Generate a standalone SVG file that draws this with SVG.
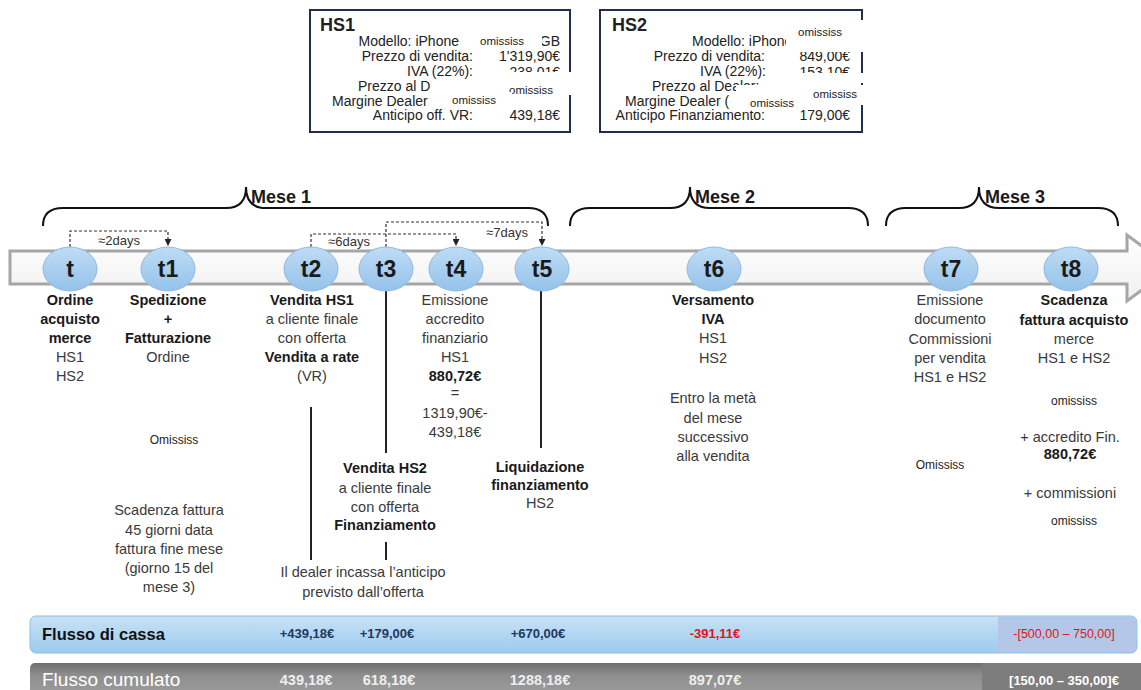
<svg xmlns="http://www.w3.org/2000/svg" width="1141" height="690" viewBox="0 0 1141 690">
<defs>
  <linearGradient id="gEll" x1="0" y1="0" x2="0" y2="1">
    <stop offset="0" stop-color="#bfdcf5"/>
    <stop offset="1" stop-color="#94c2ea"/>
  </linearGradient>
  <linearGradient id="gBar" x1="0" y1="0" x2="0" y2="1">
    <stop offset="0" stop-color="#ffffff"/>
    <stop offset="1" stop-color="#f0f0f0"/>
  </linearGradient>
  <linearGradient id="gCassa" x1="0" y1="0" x2="0" y2="1">
    <stop offset="0" stop-color="#c8e2f6"/>
    <stop offset="1" stop-color="#9ccbee"/>
  </linearGradient>
  <linearGradient id="gCum" x1="0" y1="0" x2="0" y2="1">
    <stop offset="0" stop-color="#6e6e6e"/>
    <stop offset="0.35" stop-color="#8e8e8e"/>
    <stop offset="1" stop-color="#9e9e9e"/>
  </linearGradient>
  <marker id="arr" viewBox="0 0 10 10" refX="10" refY="5" markerWidth="7" markerHeight="7" orient="auto" markerUnits="userSpaceOnUse">
    <path d="M0,0 L10,5 L0,10 z" fill="#222"/>
  </marker>
  <style>
    .t{font-family:"Liberation Sans",Arial,sans-serif;font-size:14.5px;fill:#3a3a3a;text-anchor:middle}
    .b{font-weight:bold;fill:#1a1a1a}
    .bx{font-family:"Liberation Sans",Arial,sans-serif;font-size:14px;fill:#222}
    .end{text-anchor:end}
    .om{font-family:"Liberation Sans",Arial,sans-serif;font-size:11.5px;fill:#222}
    .omc{font-family:"Liberation Sans",Arial,sans-serif;font-size:12px;fill:#222;text-anchor:middle}
    .lab{font-family:"Liberation Sans Narrow","Liberation Sans",sans-serif;font-weight:bold;font-size:23px;fill:#1a1a1a;text-anchor:middle}
    .mese{font-family:"Liberation Sans Narrow","Liberation Sans",sans-serif;font-weight:bold;font-size:18px;fill:#1a1a1a}
    .days{font-family:"Liberation Sans Narrow","Liberation Sans",sans-serif;font-size:13px;fill:#333;text-anchor:middle}
    .brace{fill:none;stroke:#111;stroke-width:2}
    .dash{fill:none;stroke:#333;stroke-width:1.2;stroke-dasharray:3 2}
    .solid{fill:none;stroke:#222;stroke-width:2}
    .ell{fill:url(#gEll);stroke:#8fb9e2;stroke-width:1}
    .patch{fill:#ffffff}
    .box{fill:#ffffff;stroke:#1f2d4f;stroke-width:2}
    .val{font-family:"Liberation Sans",Arial,sans-serif;font-weight:bold;font-size:13px;text-anchor:middle}
  </style>
</defs>

<!-- HS1 box -->
<g id="hs1">
  <rect class="box" x="310" y="10" width="260" height="122"/>
  <text class="bx b" x="320" y="31" style="font-size:18px">HS1</text>
  <text class="bx end" x="459" y="46">Modello: iPhone</text>
  <text class="bx end" x="560" y="46">GB</text>
  <text class="bx end" x="473" y="61">Prezzo di vendita:</text>
  <text class="bx end" x="560" y="61">1'319,90€</text>
  <text class="bx end" x="473" y="76">IVA (22%):</text>
  <text class="bx end" x="560" y="77">238,01€</text>
  <text class="bx" x="358" y="91">Prezzo al D</text>
  <text class="bx" x="332" y="106">Margine Dealer</text>
  <text class="bx end" x="473" y="120">Anticipo off. VR:</text>
  <text class="bx end" x="560" y="120">439,18€</text>
  <rect class="patch" x="476" y="34" width="66" height="15"/>
  <text class="om" x="480" y="45">omississ</text>
  <rect class="patch" x="480" y="72" width="94" height="10"/>
  <rect class="patch" x="436" y="80" width="138" height="15"/>
  <text class="om" x="509" y="94">omississ</text>
  <rect class="patch" x="448" y="92" width="64" height="16"/>
  <text class="om" x="452" y="104">omississ</text>
</g>

<!-- HS2 box -->
<g id="hs2">
  <rect class="box" x="600" y="10" width="262" height="122"/>
  <text class="bx b" x="612" y="31" style="font-size:18px">HS2</text>
  <text class="bx" x="692" y="46">Modello: iPhone</text>
  <text class="bx end" x="765" y="61">Prezzo di vendita:</text>
  <text class="bx end" x="850" y="61">849,00€</text>
  <text class="bx end" x="766" y="76">IVA (22%):</text>
  <text class="bx end" x="850" y="77">153,10€</text>
  <text class="bx" x="652" y="91">Prezzo al Dealer:</text>
  <text class="bx" x="625" y="106">Margine Dealer (</text>
  <text class="bx end" x="765" y="120">Anticipo Finanziamento:</text>
  <text class="bx end" x="850" y="120">179,00€</text>
  <rect class="patch" x="786" y="20" width="80" height="32"/>
  <text class="om" x="798" y="36">omississ</text>
  <rect class="patch" x="790" y="73" width="76" height="10"/>
  <rect class="patch" x="736" y="85" width="130" height="20"/>
  <text class="om" x="813" y="98">omississ</text>
  <rect class="patch" x="746" y="94" width="58" height="16"/>
  <text class="om" x="750" y="107">omississ</text>
</g>

<!-- Months -->
<g id="mese1">
  <path class="brace" d="M43,226 Q43,208 63,208 H226 Q246,208 246,187 Q246,208 266,208 H528 Q548,208 548,226"/>
  <text class="mese" x="251" y="203">Mese 1</text>
</g>
<g id="mese2">
  <path class="brace" d="M570,226 Q570,208 590,208 H670 Q690,208 690,187 Q690,208 710,208 H848 Q868,208 868,226"/>
  <text class="mese" x="695" y="203">Mese 2</text>
</g>
<g id="mese3">
  <path class="brace" d="M886,226 Q886,208 906,208 H959 Q979,208 979,187 Q979,208 999,208 H1098 Q1118,208 1118,226"/>
  <text class="mese" x="985" y="203">Mese 3</text>
</g>

<!-- Timeline -->
<g id="timeline">
  <polygon points="10,251 1127,251 1127,235 1172,268 1127,301 1127,284 10,284" fill="url(#gBar)" stroke="#a6a6a6" stroke-width="3"/>
</g>

<!-- Connectors -->
<g id="connectors">
  <path class="dash" d="M70,247 V231 H168 V246" marker-end="url(#arr)"/>
  <path class="dash" d="M311,247 V234 H456 V246" marker-end="url(#arr)"/>
  <path class="dash" d="M386,247 V222 H542 V246" marker-end="url(#arr)"/>
  <text class="days" x="119" y="245">≈2days</text>
  <text class="days" x="349" y="246">≈6days</text>
  <text class="days" x="507" y="237">≈7days</text>
  <line class="solid" x1="311" y1="407" x2="311" y2="560"/>
  <line class="solid" x1="386" y1="291" x2="386" y2="453"/>
  <line class="solid" x1="386" y1="542" x2="386" y2="560"/>
  <line class="solid" x1="541" y1="291" x2="541" y2="448"/>
</g>

<!-- Nodes -->
<g id="n-t">
  <ellipse class="ell" cx="70" cy="269" rx="27" ry="22"/>
  <text class="lab" x="70" y="277">t</text>
  <text class="t b" x="70" y="305">Ordine</text>
  <text class="t b" x="70" y="324">acquisto</text>
  <text class="t b" x="70" y="343">merce</text>
  <text class="t" x="70" y="362">HS1</text>
  <text class="t" x="70" y="381">HS2</text>
</g>
<g id="n-t1">
  <ellipse class="ell" cx="168" cy="269" rx="27" ry="22"/>
  <text class="lab" x="168" y="277">t1</text>
  <text class="t b" x="168" y="305">Spedizione</text>
  <text class="t b" x="168" y="324">+</text>
  <text class="t b" x="168" y="343">Fatturazione</text>
  <text class="t" x="168" y="362">Ordine</text>
  <text class="omc" x="174" y="444">Omississ</text>
  <text class="t" x="169" y="515">Scadenza fattura</text>
  <text class="t" x="169" y="535">45 giorni data</text>
  <text class="t" x="169" y="554">fattura fine mese</text>
  <text class="t" x="169" y="573">(giorno 15 del</text>
  <text class="t" x="169" y="592">mese 3)</text>
</g>
<g id="n-t2">
  <ellipse class="ell" cx="311" cy="269" rx="27" ry="22"/>
  <text class="lab" x="311" y="277">t2</text>
  <text class="t b" x="312" y="305">Vendita HS1</text>
  <text class="t" x="312" y="324">a cliente finale</text>
  <text class="t" x="312" y="343">con offerta</text>
  <text class="t b" x="312" y="362">Vendita a rate</text>
  <text class="t" x="312" y="381">(VR)</text>
  <text class="t" x="363" y="577">Il dealer incassa l’anticipo</text>
  <text class="t" x="363" y="597">previsto dall’offerta</text>
</g>
<g id="n-t3">
  <ellipse class="ell" cx="386" cy="269" rx="27" ry="22"/>
  <text class="lab" x="386" y="277">t3</text>
  <text class="t b" x="385" y="473">Vendita HS2</text>
  <text class="t" x="385" y="493">a cliente finale</text>
  <text class="t" x="385" y="512">con offerta</text>
  <text class="t b" x="385" y="530">Finanziamento</text>
</g>
<g id="n-t4">
  <ellipse class="ell" cx="456" cy="269" rx="27" ry="22"/>
  <text class="lab" x="456" y="277">t4</text>
  <text class="t" x="455" y="305">Emissione</text>
  <text class="t" x="455" y="324">accredito</text>
  <text class="t" x="455" y="343">finanziario</text>
  <text class="t" x="455" y="362">HS1</text>
  <text class="t b" x="455" y="381">880,72€</text>
  <text class="t" x="455" y="398">=</text>
  <text class="t" x="455" y="418">1319,90€-</text>
  <text class="t" x="455" y="437">439,18€</text>
</g>
<g id="n-t5">
  <ellipse class="ell" cx="542" cy="269" rx="27" ry="22"/>
  <text class="lab" x="542" y="277">t5</text>
  <text class="t b" x="540" y="472">Liquidazione</text>
  <text class="t b" x="540" y="490">finanziamento</text>
  <text class="t" x="540" y="508">HS2</text>
</g>
<g id="n-t6">
  <ellipse class="ell" cx="714" cy="269" rx="27" ry="22"/>
  <text class="lab" x="714" y="277">t6</text>
  <text class="t b" x="713" y="305">Versamento</text>
  <text class="t b" x="713" y="324">IVA</text>
  <text class="t" x="713" y="343">HS1</text>
  <text class="t" x="713" y="363">HS2</text>
  <text class="t" x="713" y="403">Entro la metà</text>
  <text class="t" x="713" y="423">del mese</text>
  <text class="t" x="713" y="442">successivo</text>
  <text class="t" x="713" y="461">alla vendita</text>
</g>
<g id="n-t7">
  <ellipse class="ell" cx="951" cy="269" rx="27" ry="22"/>
  <text class="lab" x="951" y="277">t7</text>
  <text class="t" x="950" y="305">Emissione</text>
  <text class="t" x="950" y="324">documento</text>
  <text class="t" x="950" y="344">Commissioni</text>
  <text class="t" x="950" y="363">per vendita</text>
  <text class="t" x="950" y="382">HS1 e HS2</text>
  <text class="omc" x="940" y="469">Omississ</text>
</g>
<g id="n-t8">
  <ellipse class="ell" cx="1071" cy="269" rx="27" ry="22"/>
  <text class="lab" x="1071" y="277">t8</text>
  <text class="t b" x="1074" y="305">Scadenza</text>
  <text class="t b" x="1074" y="325">fattura acquisto</text>
  <text class="t" x="1074" y="344">merce</text>
  <text class="t" x="1074" y="363">HS1 e HS2</text>
  <text class="omc" x="1074" y="405">omississ</text>
  <text class="t" x="1070" y="442">+ accredito Fin.</text>
  <text class="t b" x="1070" y="459">880,72€</text>
  <text class="t" x="1070" y="498">+ commissioni</text>
  <text class="omc" x="1074" y="525">omississ</text>
</g>

<!-- Flusso di cassa -->
<g id="cassa">
  <rect x="30" y="616" width="1107" height="37" rx="6" fill="url(#gCassa)" stroke="#92bce2" stroke-width="1"/>
  <path d="M998,617 H1131 Q1136,617 1136,622 V647 Q1136,652 1131,652 H998 Z" fill="#b4c7e8"/>
  <text x="42" y="640" style="font-family:'Liberation Sans',Arial,sans-serif;font-weight:bold;font-size:16.5px;fill:#111">Flusso di cassa</text>
  <text class="val" x="307" y="638" fill="#1f3864">+439,18€</text>
  <text class="val" x="387" y="638" fill="#1f3864">+179,00€</text>
  <text class="val" x="538" y="638" fill="#1f3864">+670,00€</text>
  <text class="val" x="715" y="638" fill="#e3121d">-391,11€</text>
  <text x="1064" y="638" style="font-family:'Liberation Sans',Arial,sans-serif;font-size:12.5px;fill:#e3121d;text-anchor:middle">-[500,00 – 750,00]</text>
</g>

<!-- Flusso cumulato -->
<g id="cumulato">
  <rect x="30" y="663" width="1116" height="34" rx="5" fill="url(#gCum)"/>
  <rect x="982" y="663" width="159" height="27" fill="#7d7d7d"/>
  <text x="42" y="686" style="font-family:'Liberation Sans',Arial,sans-serif;font-size:19px;fill:#ffffff">Flusso cumulato</text>
  <text class="val" x="306" y="685" style="font-size:14.5px" fill="#eeeeee">439,18€</text>
  <text class="val" x="389" y="685" style="font-size:14.5px" fill="#eeeeee">618,18€</text>
  <text class="val" x="540" y="685" style="font-size:14.5px" fill="#eeeeee">1288,18€</text>
  <text class="val" x="715" y="685" style="font-size:14.5px" fill="#eeeeee">897,07€</text>
  <text class="val" x="1064" y="685" fill="#ffffff">[150,00 – 350,00]€</text>
</g>
</svg>
